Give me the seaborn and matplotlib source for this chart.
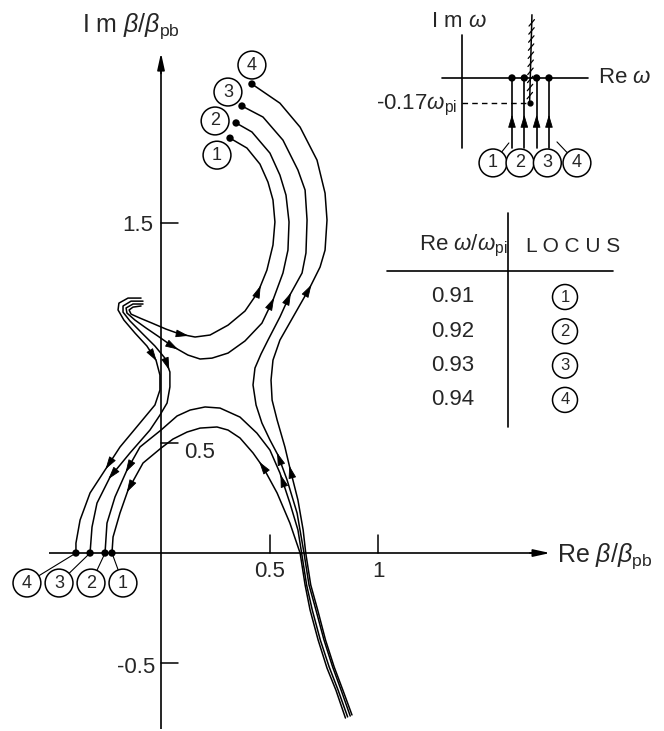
import numpy as np
import matplotlib
matplotlib.use("Agg")
import matplotlib.pyplot as plt
import seaborn as sns

sns.set_theme(style="white")
plt.rcParams["font.family"] = ["Liberation Sans", "DejaVu Sans"]
plt.rcParams["mathtext.fontset"] = "custom"
plt.rcParams["mathtext.rm"] = "Liberation Sans"
plt.rcParams["mathtext.it"] = "Liberation Sans:italic"
plt.rcParams["mathtext.bf"] = "Liberation Sans:bold"

# ---- locus parameters -------------------------------------------------
locus_ids = ["1", "2", "3", "4"]
re_omega = [0.91, 0.92, 0.93, 0.94]      # Re omega / omega_pi of each locus
im_omega_pinch = -0.17                    # Im omega of the pinch point

# ---- beta loci (Re beta/beta_pb, Im beta/beta_pb) ---------------------
# branches ending at the upper dots
l1_up_x = [-0.092, -0.129, -0.147, -0.138, -0.097, -0.041, 0.023, 0.088, 0.157, 0.226, 0.309,
           0.387, 0.447, 0.488, 0.516, 0.525, 0.516, 0.493, 0.456, 0.396, 0.318]
l1_up_y = [1.123, 1.118, 1.105, 1.086, 1.068, 1.045, 1.018, 0.995, 0.982, 0.991, 1.036,
           1.100, 1.186, 1.286, 1.400, 1.505, 1.605, 1.686, 1.768, 1.841, 1.886]
l2_up_x = [-0.083, -0.129, -0.161, -0.157, -0.120, -0.069, -0.014, 0.051, 0.124, 0.180, 0.235,
           0.309, 0.387, 0.465, 0.516, 0.562, 0.585, 0.590, 0.576, 0.548, 0.502, 0.419, 0.346]
l2_up_y = [1.132, 1.132, 1.114, 1.091, 1.059, 1.023, 0.986, 0.941, 0.900, 0.882, 0.886,
           0.909, 0.964, 1.045, 1.150, 1.273, 1.377, 1.505, 1.627, 1.718, 1.818, 1.914, 1.955]
l3_up_x = [0.872, 0.830, 0.791, 0.751, 0.714, 0.682, 0.659, 0.627, 0.581, 0.539, 0.502, 0.465,
           0.438, 0.424, 0.433, 0.461, 0.493, 0.548, 0.594, 0.650, 0.668, 0.673, 0.664, 0.631,
           0.562, 0.470, 0.373]
l3_up_y = [-0.741, -0.623, -0.518, -0.395, -0.259, -0.145, 0.0, 0.182, 0.332, 0.445, 0.514, 0.591,
           0.673, 0.764, 0.841, 0.905, 0.968, 1.073, 1.173, 1.273, 1.364, 1.514, 1.650, 1.741,
           1.877, 1.982, 2.032]
l4_up_x = [0.880, 0.838, 0.798, 0.758, 0.722, 0.690, 0.667, 0.655, 0.631, 0.594, 0.571, 0.535,
           0.512, 0.507, 0.516, 0.548, 0.627, 0.687, 0.733, 0.756, 0.765, 0.756, 0.719, 0.641,
           0.548, 0.419]
l4_up_y = [-0.736, -0.623, -0.518, -0.395, -0.259, -0.145, 0.0, 0.105, 0.241, 0.386, 0.482, 0.605,
           0.695, 0.786, 0.877, 0.968, 1.105, 1.209, 1.300, 1.377, 1.514, 1.636, 1.786, 1.936,
           2.045, 2.132]

# branches ending on the real axis
l1_lo_x = [0.850, 0.806, 0.765, 0.724, 0.687, 0.664, 0.641, 0.594, 0.535, 0.470, 0.424, 0.364,
           0.309, 0.258, 0.180, 0.120, 0.055, 0.0, -0.083, -0.152, -0.189, -0.221, -0.226]
l1_lo_y = [-0.750, -0.623, -0.523, -0.395, -0.259, -0.145, 0.0, 0.136, 0.273, 0.391, 0.455, 0.523,
           0.559, 0.573, 0.568, 0.550, 0.518, 0.477, 0.409, 0.286, 0.182, 0.073, 0.0]
l2_lo_x = [0.860, 0.816, 0.775, 0.734, 0.697, 0.671, 0.648, 0.631, 0.594, 0.548, 0.502, 0.442,
           0.364, 0.272, 0.203, 0.134, 0.074, 0.0, -0.097, -0.157, -0.212, -0.249, -0.258]
l2_lo_y = [-0.745, -0.623, -0.518, -0.395, -0.259, -0.145, 0.0, 0.105, 0.227, 0.364, 0.468, 0.545,
           0.618, 0.659, 0.664, 0.650, 0.623, 0.559, 0.482, 0.377, 0.255, 0.136, 0.0]
l3_lo_x = [-0.083, -0.138, -0.175, -0.175, -0.143, -0.088, -0.028, 0.018, 0.041, 0.041, 0.028,
           -0.005, -0.051, -0.143, -0.235, -0.295, -0.318, -0.327]
l3_lo_y = [1.145, 1.145, 1.123, 1.095, 1.055, 1.000, 0.941, 0.886, 0.823, 0.755, 0.682,
           0.627, 0.559, 0.455, 0.345, 0.227, 0.118, 0.0]
l4_lo_x = [-0.092, -0.152, -0.194, -0.198, -0.171, -0.120, -0.065, -0.023, -0.005, -0.005, -0.028,
           -0.097, -0.189, -0.249, -0.327, -0.373, -0.392, -0.392]
l4_lo_y = [1.159, 1.159, 1.136, 1.105, 1.059, 1.000, 0.941, 0.877, 0.809, 0.741, 0.673,
           0.591, 0.482, 0.391, 0.273, 0.150, 0.045, 0.0]

# axis ticks
x_ticks = [0.5, 1.0]
x_tick_labels = ["0.5", "1"]
y_ticks = [1.5, 0.5, -0.5]
y_tick_labels = ["1.5", "0.5", "-0.5"]

INK = "black"
LABEL_FS = 16
fig = plt.figure(figsize=(6.64, 7.31), dpi=100)
fig.patch.set_facecolor("white")

ax = fig.add_axes([0, 0, 1, 1], facecolor="none")
ax.set_xlim(-0.742, 2.318)
ax.set_ylim(-0.809, 2.514)
ax.axis("off")

# ---- coordinate axes with arrows ----
ax.plot([-0.516, 1.76], [0, 0], color=INK, lw=1.2, solid_capstyle="butt")
ax.plot([0, 0], [-0.80, 2.24], color=INK, lw=1.2, solid_capstyle="butt")
for tip, tail in [((1.793, 0), (1.70, 0)), ((0, 2.273), (0, 2.18))]:
    ax.annotate("", xy=tip, xytext=tail,
                arrowprops=dict(arrowstyle="-|>,head_length=1.0,head_width=0.22",
                                fc=INK, ec=INK, lw=1.2, shrinkA=0, shrinkB=0,
                                mutation_scale=10))

for t, lab in zip(x_ticks, x_tick_labels):
    ax.plot([t, t], [0, 0.08], color=INK, lw=1.1)
    ax.text(t, -0.085, lab, ha="center", va="center", fontsize=LABEL_FS)
for t, lab in zip(y_ticks, y_tick_labels):
    ax.plot([0, 0.08], [t, t], color=INK, lw=1.1)
    if t > 1:
        ax.text(-0.035, t - 0.01, lab, ha="right", va="center", fontsize=LABEL_FS)
    elif t > 0:
        ax.text(0.108, t - 0.045, lab, ha="left", va="center", fontsize=LABEL_FS)
    else:
        ax.text(-0.028, t - 0.022, lab, ha="right", va="center", fontsize=LABEL_FS)

ax.text(-0.364, 2.370, r"I m $\beta/\beta_{\rm pb}$", ha="left", va="baseline", fontsize=18)
ax.text(1.825, -0.041, r"Re $\beta/\beta_{\rm pb}$", ha="left", va="baseline", fontsize=18)

# ---- loci ----
branches = [
    (l1_up_x, l1_up_y), (l2_up_x, l2_up_y), (l3_up_x, l3_up_y), (l4_up_x, l4_up_y),
    (l1_lo_x, l1_lo_y), (l2_lo_x, l2_lo_y), (l3_lo_x, l3_lo_y), (l4_lo_x, l4_lo_y),
]
for bx, by in branches:
    sns.lineplot(x=bx, y=by, sort=False, estimator=None, color=INK, lw=1.1, ax=ax)


def head_on(target_ax, xs, ys, near):
    """Arrowhead on a branch at the point nearest to `near`, pointing along the branch."""
    xs = np.asarray(xs, float)
    ys = np.asarray(ys, float)
    p = np.asarray(near, float)
    best = None
    for i in range(len(xs) - 1):
        a = np.array([xs[i], ys[i]])
        d = np.array([xs[i + 1] - xs[i], ys[i + 1] - ys[i]])
        L2 = d @ d
        t = np.clip((p - a) @ d / L2, 0, 1)
        q = a + t * d
        dist = np.hypot(*(q - p))
        if best is None or dist < best[0]:
            best = (dist, q, d / np.sqrt(L2))
    _, q, u = best
    target_ax.annotate("", xy=q + u * 0.012, xytext=q - u * 0.012,
                       arrowprops=dict(arrowstyle="-|>,head_length=0.8,head_width=0.24",
                                       fc=INK, ec=INK, lw=0.6, shrinkA=0, shrinkB=0,
                                       mutation_scale=10))


head_marks = [
    (l1_up_x, l1_up_y, [(0.456, 1.205), (0.115, 0.986)]),
    (l2_up_x, l2_up_y, [(0.516, 1.150), (0.069, 0.932)]),
    (l3_up_x, l3_up_y, [(0.594, 1.173), (0.539, 0.445)]),
    (l4_up_x, l4_up_y, [(0.687, 1.209), (0.594, 0.386)]),
    (l1_lo_x, l1_lo_y, [(0.465, 0.409), (-0.152, 0.286)]),
    (l2_lo_x, l2_lo_y, [(0.553, 0.345), (-0.157, 0.377)]),
    (l3_lo_x, l3_lo_y, [(0.041, 0.845), (-0.235, 0.345)]),
    (l4_lo_x, l4_lo_y, [(-0.014, 0.891), (-0.249, 0.391)]),
]
for bx, by, spots in head_marks:
    for s in spots:
        head_on(ax, bx, by, s)

# end points of the loci (Im omega = 0)
up_ends = [(b[0][-1], b[1][-1]) for b in branches[:4]]
lo_ends = [(b[0][-1], b[1][-1]) for b in branches[4:]]
sns.scatterplot(x=[e[0] for e in up_ends + lo_ends], y=[e[1] for e in up_ends + lo_ends],
                color=INK, s=28, edgecolor="none", ax=ax, zorder=5)

circle_box = dict(boxstyle="circle,pad=0.30", fc="white", ec=INK, lw=1.1)
up_offsets = [(-13, -17), (-21, 2), (-14, 14), (0, 19)]
for lab, end, off in zip(locus_ids, up_ends, up_offsets):
    ax.annotate(lab, xy=end, xytext=off, textcoords="offset pixels",
                ha="center", va="center", fontsize=13, bbox=circle_box)
lo_offsets = [(11, -30), (-14, -30), (-31, -30), (-49, -30)]
for lab, end, off in zip(locus_ids, lo_ends, lo_offsets):
    ax.annotate(lab, xy=end, xytext=off, textcoords="offset pixels",
                ha="center", va="center", fontsize=13, bbox=circle_box,
                arrowprops=dict(arrowstyle="-", color=INK, lw=0.8, shrinkA=0, shrinkB=2))

# ---- omega-plane inset ----
ax_in = fig.add_axes([0.6476, 0.7538, 0.2560, 0.2394], facecolor="none")
ax_in.set_xlim(0.8435, 0.9814)
ax_in.set_ylim(-0.694, 0.4966)
ax_in.axis("off")
im_axis_re = 0.8695
ax_in.plot([im_axis_re, im_axis_re], [-0.476, 0.29], color=INK, lw=1.2)
ax_in.plot([0.8532, 0.9716], [0, 0], color=INK, lw=1.2)
ax_in.text(0.867, 0.381, r"I m $\omega$", ha="center", va="center", fontsize=LABEL_FS)
ax_in.text(0.9797, 0.0, r"Re $\omega$", ha="left", va="center", fontsize=LABEL_FS)

for r in re_omega:
    ax_in.plot([r, r], [-0.476, 0], color=INK, lw=1.2)
    ax_in.annotate("", xy=(r, -0.25), xytext=(r, -0.33),
                   arrowprops=dict(arrowstyle="-|>,head_length=0.8,head_width=0.24",
                                   fc=INK, ec=INK, lw=0.6, shrinkA=0, shrinkB=0,
                                   mutation_scale=10))
sns.scatterplot(x=re_omega, y=[0] * len(re_omega), color=INK, s=28, edgecolor="none",
                ax=ax_in, zorder=5)

# branch cut from the pinch point, with hatching
cut_re = [0.9243, 0.9262]
cut_im = [im_omega_pinch, 0.43]
ax_in.plot(cut_re, cut_im, color=INK, lw=1.1)
for h in np.arange(-0.12, 0.42, 0.055):
    xc = np.interp(h, cut_im, cut_re)
    ax_in.plot([xc - 0.0022, xc + 0.0022], [h - 0.022, h + 0.022], color=INK, lw=0.9)
ax_in.scatter([cut_re[0]], [im_omega_pinch], color=INK, s=12, zorder=5)
ax_in.plot([im_axis_re, cut_re[0]], [im_omega_pinch, im_omega_pinch], color=INK, lw=1.0,
           dashes=(4, 3))
ax_in.text(0.8655, im_omega_pinch - 0.02, f"{im_omega_pinch:.2f}" + r"$\omega_{\rm pi}$",
           ha="right", va="center", fontsize=LABEL_FS)

in_circle_x = [0.8946, 0.9165, 0.9387, 0.9627]
in_leader = [(0.9075, -0.442), (0.9210, -0.50), (0.9324, -0.51), (0.9465, -0.435)]
for lab, cx, tip in zip(locus_ids, in_circle_x, in_leader):
    ax_in.annotate(lab, xy=tip, xytext=(cx, -0.578), textcoords="data",
                   ha="center", va="center", fontsize=13, bbox=circle_box,
                   arrowprops=dict(arrowstyle="-", color=INK, lw=0.8, shrinkA=0, shrinkB=0))

# ---- table of loci ----
tab = fig.add_axes([0, 0, 1, 1], facecolor="none")
tab.set_xlim(0, 664)
tab.set_ylim(731, 0)
tab.axis("off")
tab.plot([508, 508], [213, 427], color=INK, lw=1.2)
tab.plot([387, 613], [271, 271], color=INK, lw=1.2)
tab.text(463, 246, r"Re $\omega/\omega_{\rm pi}$", ha="center", va="center", fontsize=LABEL_FS)
tab.text(573, 246, "L O C U S", ha="center", va="center", fontsize=15)
small_circle = dict(boxstyle="circle,pad=0.30", fc="white", ec=INK, lw=1.1)
for i, (v, lab) in enumerate(zip(re_omega, locus_ids)):
    yy = 297 + i * 34.3
    tab.text(453, yy, f"{v:.2f}", ha="center", va="center", fontsize=LABEL_FS)
    tab.text(565, yy, lab, ha="center", va="center", fontsize=12, bbox=small_circle)

fig.savefig("out.png", dpi=100, facecolor="white")
